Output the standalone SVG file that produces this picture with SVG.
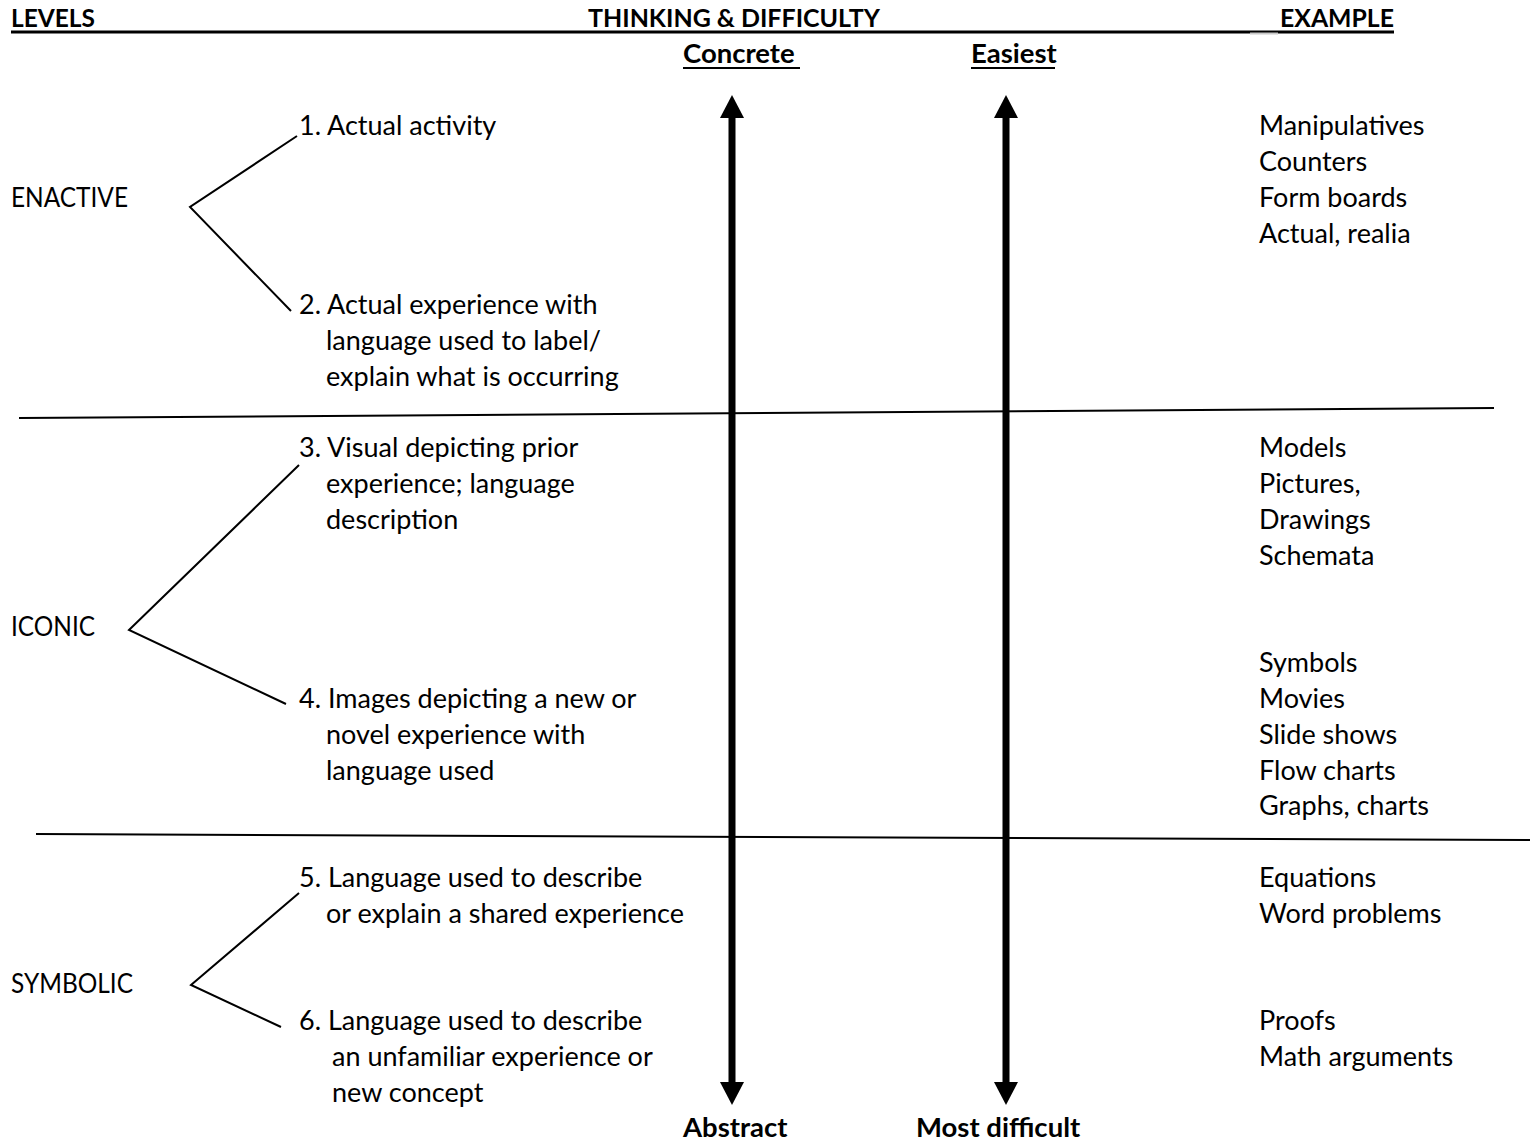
<svg xmlns="http://www.w3.org/2000/svg" width="1530" height="1143" viewBox="0 0 1530 1143">
<style>
text{font-family:Lato,"Liberation Sans",sans-serif;font-size:27px;fill:#000}
.b{font-weight:bold;font-size:27.5px}
.h{font-weight:bold;font-size:25px}
.ln{stroke:#000;stroke-width:2;fill:none}
.ul{stroke:#000;stroke-width:3}
.ax{stroke:#000;stroke-width:7;marker-start:url(#ah);marker-end:url(#ah)}
</style>
<defs>
<marker id="ah" markerUnits="userSpaceOnUse" markerWidth="24" markerHeight="24" refX="0" refY="12" orient="auto-start-reverse" viewBox="0 0 24 24">
<path d="M0,0 L23,12 L0,24 z" fill="#000"/>
</marker>
</defs>
<rect width="1530" height="1143" fill="#fff"/>
<g id="header">
<text class="h" x="11" y="27" textLength="84" lengthAdjust="spacingAndGlyphs">LEVELS</text>
<text class="h" x="588" y="27" textLength="292" lengthAdjust="spacingAndGlyphs">THINKING &amp; DIFFICULTY</text>
<text class="h" x="1280" y="27" textLength="114" lengthAdjust="spacingAndGlyphs">EXAMPLE</text>
<line class="ul" x1="11" y1="32" x2="1394" y2="32"/>
<line x1="1250" y1="33.5" x2="1278" y2="33.5" stroke="#c8c8c8" stroke-width="2"/>
<text class="b" x="683" y="63">Concrete</text>
<line x1="683" y1="68" x2="800" y2="68" stroke="#000" stroke-width="2"/>
<text class="b" x="971" y="63">Easiest</text>
<line x1="971" y1="68" x2="1055" y2="68" stroke="#000" stroke-width="2"/>
<text class="b" x="683" y="1137">Abstract</text>
<text class="b" x="916" y="1137">Most difficult</text>
</g>
<g id="connectors">
<line class="ln" x1="19" y1="418" x2="1494" y2="408"/>
<line class="ln" x1="36" y1="834" x2="1530" y2="840"/>
<polyline class="ln" points="297,136 190,207 291,311"/>
<polyline class="ln" points="299,465 129,630 286,704"/>
<polyline class="ln" points="299,893 191,985 281,1027"/>
<line class="ax" x1="732" y1="118" x2="732" y2="1082"/>
<line class="ax" x1="1006" y1="118" x2="1006" y2="1082"/>
</g>
<g id="enactive">
<text x="11" y="207" textLength="117" lengthAdjust="spacingAndGlyphs">ENACTIVE</text>
</g>
<g id="iconic">
<text x="11" y="636" textLength="84" lengthAdjust="spacingAndGlyphs">ICONIC</text>
</g>
<g id="symbolic">
<text x="11" y="993" textLength="122" lengthAdjust="spacingAndGlyphs">SYMBOLIC</text>
</g>
<g id="item1"><text x="299" y="135">1. Actual activity</text></g>
<g id="item2">
<text x="299" y="314">2. Actual experience with</text>
<text x="326" y="350">language used to label/</text>
<text x="326" y="386">explain what is occurring</text>
</g>
<g id="item3">
<text x="299" y="457">3. Visual depicting prior</text>
<text x="326" y="493">experience; language</text>
<text x="326" y="529">description</text>
</g>
<g id="item4">
<text x="299" y="708">4. Images depicting a new or</text>
<text x="326" y="744">novel experience with</text>
<text x="326" y="780">language used</text>
</g>
<g id="item5">
<text x="299" y="887">5. Language used to describe</text>
<text x="326" y="923">or explain a shared experience</text>
</g>
<g id="item6">
<text x="299" y="1030">6. Language used to describe</text>
<text x="332" y="1066">an unfamiliar experience or</text>
<text x="332" y="1102">new concept</text>
</g>
<g id="examples-enactive">
<text x="1259" y="135">Manipulatives</text>
<text x="1259" y="171">Counters</text>
<text x="1259" y="207">Form boards</text>
<text x="1259" y="243">Actual, realia</text>
</g>
<g id="examples-iconic-1">
<text x="1259" y="457">Models</text>
<text x="1259" y="493">Pictures,</text>
<text x="1259" y="529">Drawings</text>
<text x="1259" y="565">Schemata</text>
</g>
<g id="examples-iconic-2">
<text x="1259" y="672">Symbols</text>
<text x="1259" y="708">Movies</text>
<text x="1259" y="744">Slide shows</text>
<text x="1259" y="780">Flow charts</text>
<text x="1259" y="815">Graphs, charts</text>
</g>
<g id="examples-symbolic-1">
<text x="1259" y="887">Equations</text>
<text x="1259" y="923">Word problems</text>
</g>
<g id="examples-symbolic-2">
<text x="1259" y="1030">Proofs</text>
<text x="1259" y="1066">Math arguments</text>
</g>
</svg>
